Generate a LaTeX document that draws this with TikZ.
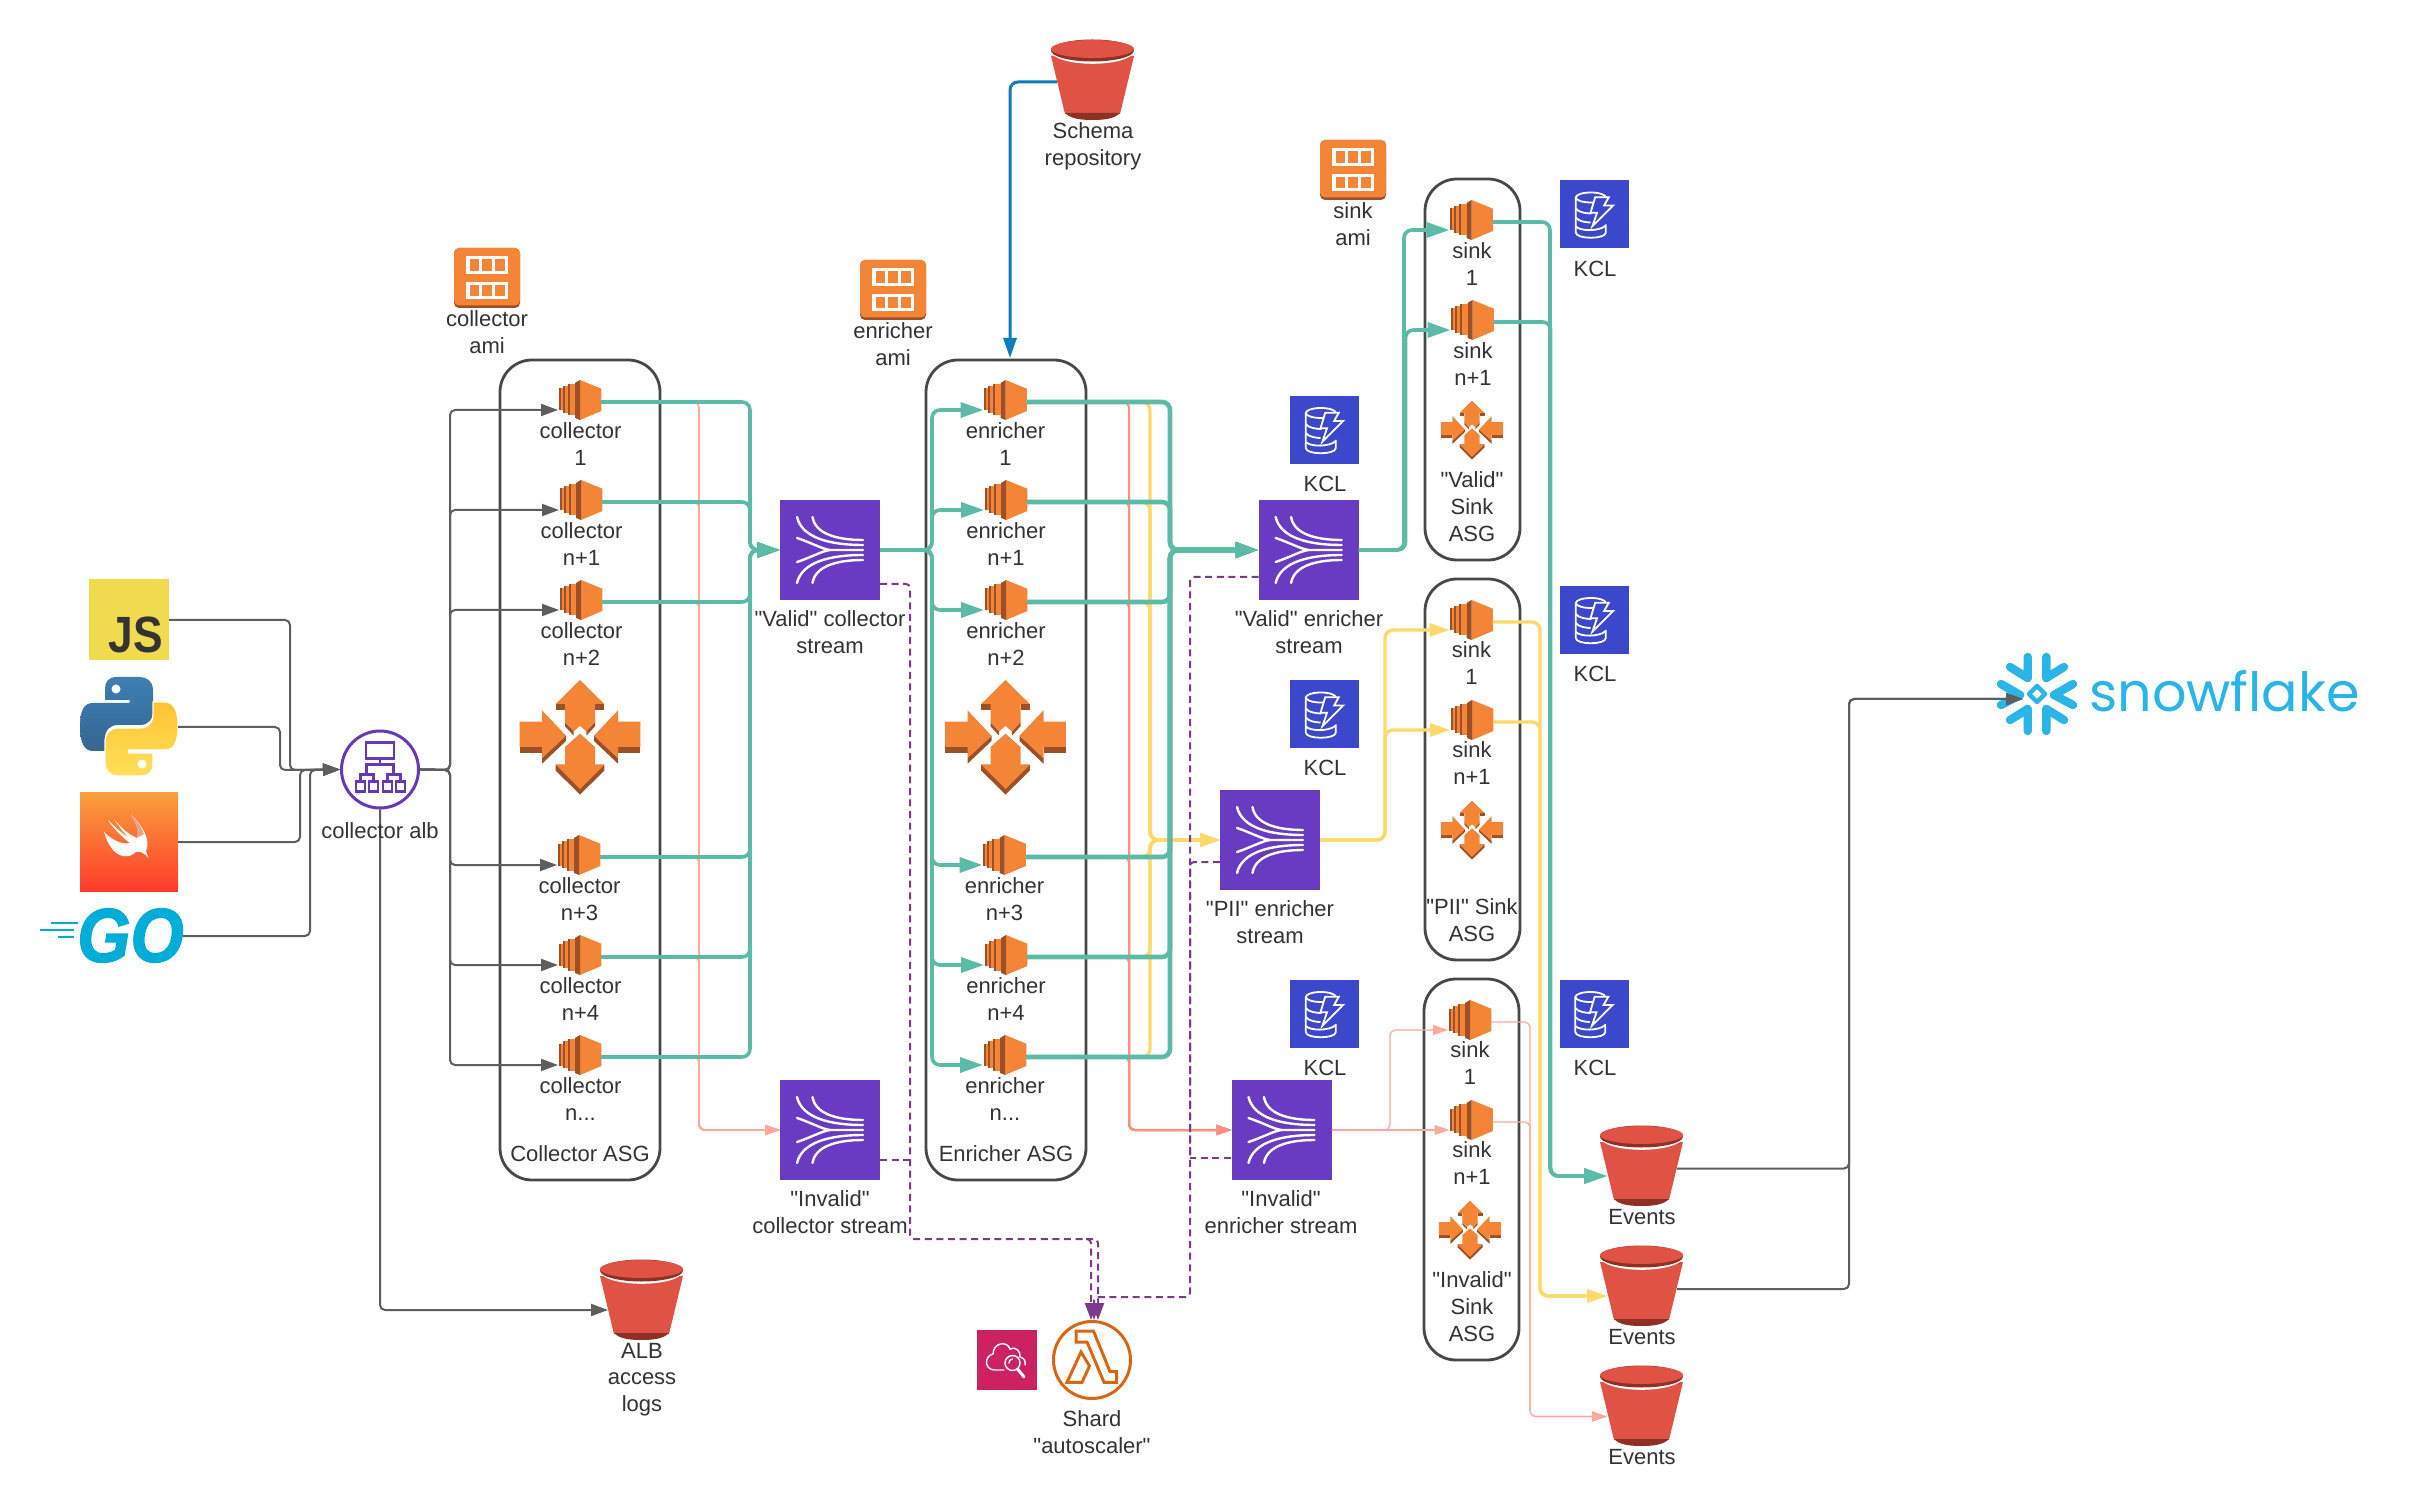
\documentclass[tikz,border=0pt]{standalone}
\usepackage{fontspec}
\setmainfont{Liberation Sans}
\newfontfamily\lblfont{Liberation Sans}
\newfontfamily\snowfont{Poppins}
\usetikzlibrary{arrows.meta}
\definecolor{txt}{HTML}{333333}
\definecolor{ora}{HTML}{F58536}
\definecolor{orad}{HTML}{9D5025}
\definecolor{strm}{HTML}{693AC2}
\definecolor{kclb}{HTML}{3B48CC}
\definecolor{buck}{HTML}{E05243}
\definecolor{buckd}{HTML}{8C3123}
\definecolor{grayl}{HTML}{5E5E5E}
\definecolor{tealc}{HTML}{5BBBA7}
\definecolor{yelc}{HTML}{FFDA6A}
\definecolor{pinkc}{HTML}{FF9080}
\definecolor{pinkl}{HTML}{FFA99C}
\definecolor{bluec}{HTML}{0C7CBE}
\definecolor{purc}{HTML}{7B3A8C}
\definecolor{boxc}{HTML}{484848}
\definecolor{albc}{HTML}{6639BA}
\definecolor{lamc}{HTML}{D86613}
\definecolor{cwc}{HTML}{CC2264}
\definecolor{goc}{HTML}{00ADD8}
\definecolor{snowc}{HTML}{29B5E8}
\definecolor{jsc}{HTML}{F0DB4F}
\definecolor{pyba}{HTML}{3D7FB5}
\definecolor{pybb}{HTML}{356690}
\definecolor{pyya}{HTML}{FFE05A}
\definecolor{pyyb}{HTML}{FFC331}
\definecolor{swa}{HTML}{F9A03C}
\definecolor{swb}{HTML}{FF3A2B}
\definecolor{birda}{HTML}{E4512B}
\newcommand\pypath{(37,0) .. controls (28,0) and (25,5) .. (25,12) -- (25,23) -- (49.5,23) -- (49.5,26) -- (13,26) .. controls (4,26) and (0,33) .. (0,50) .. controls (0,67) and (5,74) .. (13,74) -- (25,74) -- (25,62) .. controls (25,53) and (30,48) .. (38,48) -- (60,48) .. controls (68,48) and (73,42) .. (73,36) -- (73,12) .. controls (73,5) and (67,0) .. (60,0) -- cycle}
\tikzset{
  lbl/.style={align=center,anchor=north,inner sep=0pt,text=txt,font=\fontsize{11}{13.3}\selectfont\lblfont,execute at begin node=\strut},
  iconbox/.style={inner sep=0pt,outer sep=0pt,rectangle},
  asgbox/.style={draw=boxc,line width=1.4pt,rounded corners=16pt,inner sep=0pt,outer sep=0pt},
  grayline/.style={draw=grayl,line width=1pt,rounded corners=2.5pt,-{Triangle[length=8.5pt,width=6pt]}},
  tealline/.style={draw=tealc,line width=1.8pt,rounded corners=4pt,-{Triangle[length=11.5pt,width=7.5pt]}},
  tealthick/.style={tealline,line width=2.3pt},
  yelline/.style={draw=yelc,line width=1.7pt,rounded corners=4pt,-{Triangle[length=10pt,width=6.5pt]}},
  pinkline/.style={draw=pinkc,line width=1pt,rounded corners=3pt,-{Triangle[length=7.5pt,width=5pt]}},
  pinkthin/.style={draw=pinkl,line width=.6pt,rounded corners=3pt,-{Triangle[length=7.5pt,width=5pt]}},
  blueline/.style={draw=bluec,line width=1.5pt,rounded corners=4pt,-{Triangle[length=10pt,width=6.5pt]}},
  purline/.style={draw=purc,line width=1pt,rounded corners=2pt,dash pattern=on 3.5pt off 2.3pt},
  purarrow/.style={purline,-{Triangle[length=8.5pt,width=6pt]}},
  ectwo/.pic={
    \fill[ora] (0,-20)--(21.3,-11.3)--(21.3,11)--(0,20)--cycle;
    \fill[orad] (-5,-17)--(0,-20)--(0,20)--(-5,18)--cycle;
    \fill[ora] (-10.5,-16) rectangle (-5,15.5);
    \fill[orad] (-12.5,-16) rectangle (-10.5,15.5);
    \fill[ora] (-15.5,-14) rectangle (-12.5,13);
    \fill[orad] (-17.5,-14) rectangle (-15.5,13);
    \fill[ora] (-19.5,-11.5) rectangle (-17.5,10.5);
    \fill[orad] (-21.3,-11.5) rectangle (-19.5,10.5);
  },
  autosc/.pic={
    \fill[orad] (-24.3,-33) rectangle (-15,-27);
    \fill[orad] (24.3,-33) rectangle (15,-27);
    \fill[orad] (-15,-14.7)--(-6.3,-5.7)--(-6.3,-1.3)--(-15,-10.7)--cycle;
    \fill[orad] (15,-14.7)--(6.3,-5.7)--(6.3,-1.3)--(15,-10.7)--cycle;
    \fill[ora] (0,-57)--(24.3,-33)--(15,-33)--(15,-14.7)--(6.3,-5.7)--(0,-11)--(-6.3,-5.7)--(-15,-14.7)--(-15,-33)--(-24.3,-33)--cycle;
    \fill[orad] (24.3,27.7)--(24.3,33.5)--(0,57.7)--(-24.3,33.5)--(-24.3,27.7)--cycle;
    \fill[ora] (0,-3.3)--(15,10)--(15,27.7)--(24.3,27.7)--(0,52)--(-24.3,27.7)--(-15,27.7)--(-15,10)--cycle;
    \foreach \s in {1,-1}{
      \fill[orad] (\s*-60.3,10) rectangle (\s*-38,16);
      \fill[orad] (\s*-38,21)--(\s*-14,-1.3)--(\s*-14,4)--(\s*-38,26.7)--cycle;
      \fill[ora] (\s*-60.3,-15.3)--(\s*-38,-15.3)--(\s*-38,-26.7)--(\s*-14,-1.3)--(\s*-38,21)--(\s*-38,10)--(\s*-60.3,10)--cycle;
    }
  },
  amiglyph/.pic={
    \fill[orad,rounded corners=2.5pt] (-33,-30) rectangle (33,30);
    \fill[ora,rounded corners=2.5pt] (-33,-30) rectangle (33,27.5);
    \foreach \y in {-21.7,3.7}{
      \fill[white] (-21,\y) rectangle (21,{\y+17.7});
      \foreach \x in {-17.5,-4.7,8}{
        \fill[ora] (\x,{\y+3}) rectangle ({\x+9.7},{\y+14.7});
      }
    }
  },
  kinesis/.pic={
    \begin{scope}[draw=white,line width=1.2pt,line cap=round]
    \draw (-17.5,-33) .. controls (-15,-17) and (5,-10) .. (33,-10);
    \draw (-33,-33) .. controls (-28,-12) and (0,-5) .. (33,-5);
    \draw (-33,-12) .. controls (-18,-7) and (-8,-1) .. (0,0) -- (33,0);
    \draw (-17.5,33) .. controls (-15,17) and (5,10) .. (33,10);
    \draw (-33,33) .. controls (-28,12) and (0,5) .. (33,5);
    \draw (-33,12) .. controls (-18,7) and (-8,1) .. (0,0);
    \end{scope}
  },
  dynamo/.pic={
    \begin{scope}[draw=white,line width=.9pt]
    \draw (-3.7,-17) ellipse (15 and 5);
    \draw (-18.7,-17) -- (-18.7,18) .. controls (-18.7,25) and (11.3,25) .. (11.3,18) -- (11.3,10);
    \draw (-18.7,-6) .. controls (-16,-2) and (-8,-1) .. (-3,-1);
    \draw (-18.7,3) .. controls (-16,7) and (-8,8) .. (-4,8);
    \draw (-18.7,12) .. controls (-14,17) and (5,17) .. (11.3,11);
    \draw[fill=kclb] (0.7,-17.3)--(14.3,-17.3)--(9.6,-9)--(18.6,-9)--(-2.1,11.7)--(2.5,-1.7)--(-4,-1.7)--cycle;
    \end{scope}
  },
  bucket/.pic={
    \fill[buck] (-41.5,-24)--(-27.5,34)--(27.5,34)--(41.5,-24)--cycle;
    \fill[buckd] (-27.5,33) .. controls (-24,36) and (-20,40) .. (0,40) .. controls (20,40) and (24,36) .. (27.5,33) -- cycle;
    \fill[white] (0,-29) ellipse (41.5 and 12.8);
    \fill[buckd] (0,-29.5) ellipse (41.5 and 11);
    \fill[buck] (0,-31) ellipse (41.5 and 9);
  },
  albglyph/.pic={
    \begin{scope}[draw=albc,line width=1.15pt]
    \draw (-14,-27) rectangle (14,-11);
    \draw (0,-11) -- (0,-5);
    \draw (-13.5,5) -- (-13.5,-5) -- (13.5,-5) -- (13.5,5);
    \draw (-19.5,12) -- (-19.5,5) -- (-6.5,5) -- (-6.5,12);
    \draw (7.5,12) -- (7.5,5) -- (20.5,5) -- (20.5,12);
    \foreach \x in {-24,-11,3,16}{\draw (\x,12) rectangle ({\x+9},22);}
    \end{scope}
  },
  lamglyph/.pic={
    \begin{scope}[draw=lamc,line width=1.5pt,line join=miter]
    \draw (-16,-29)--(1.5,-29)--(18,11.7)--(24.5,11.7)--(24.5,22.3)--(12,22.3)--(-5,-18)--(-16,-18)--cycle;
    \draw (-11,-8)--(-2.5,6)--(-10,22.3)--(-25,22.3)--cycle;
    \end{scope}
  },
  cwglyph/.pic={
    \begin{scope}[draw=white,line width=.7pt,line cap=round]
    \draw (-3,10) -- (-12,10) .. controls (-23,10) and (-23,-4) .. (-14,-6) .. controls (-14,-17) and (0,-20) .. (3,-11) .. controls (8,-14) and (14,-9) .. (13,-3) .. controls (17,-2) and (19,1) .. (18,5);
    \draw (5.5,3) circle (7.5);
    \draw (5.5,-1) .. controls (3,-1) and (2,1) .. (2,3);
    \draw[line width=1.5pt] (10.5,9) -- (17,17);
    \end{scope}
  },
  swiftbird/.pic={
    \fill[white] (131,815) .. controls (143,826) and (151,840) .. (146,851) -- (148.5,858) .. controls (144,853) and (141,851) .. (136,852) .. controls (128,860) and (112,859) .. (104,832) .. controls (112,840) and (122,845) .. (130,843) .. controls (122,837) and (113,828) .. (108,820) .. controls (116,828) and (124,835) .. (129,838) .. controls (123,832) and (118,825) .. (114,819) .. controls (122,829) and (128,834) .. (137,838) .. controls (139,830) and (136,823) .. (131,815) -- cycle;
    \fill[birda,opacity=.55] (131,815) .. controls (137,821) and (142,828) .. (144,834) -- (137,838) .. controls (139,830) and (136,823) .. (131,815) -- cycle;
  },
  snowglyph/.pic={
    \begin{scope}[draw=snowc,line width=4.2pt,line cap=round,line join=round]
    \foreach \s in {1,-1}{
      \draw (\s*-9.3,-37) -- (\s*-9.3,-16) -- (\s*-27,-27);
      \draw (\s*-36,-10) -- (\s*-17,1) -- (\s*-36,11);
      \draw (\s*-27,26) -- (\s*-9.3,15) -- (\s*-9.3,37);
    }
    \draw[line width=2.2pt] (0,-8)--(8,0)--(0,8)--(-8,0)--cycle;
    \end{scope}
  },
}
\newcommand\lbl[4]{\node[lbl] (#1) at ({#2},{#3-10.6}) {#4};}
\newcommand\lblm[4]{\node[lbl] (#1) at ({#2},{#3-8.4}) {#4};}
\newcommand\ecnode[3]{\node[iconbox,minimum width=21pt,minimum height=20pt] (#1) at (#2,#3) {};\pic at (#2,#3) {ectwo};\coordinate (#1in) at ({#2-22},{#3+10});\coordinate (#1out) at ({#2+21},{#3+2});}
\newcommand\streamnode[3]{\node[iconbox,fill=strm,minimum size=50pt] (#1) at (#2,#3) {};\pic at (#2,#3) {kinesis};}
\newcommand\kclnode[3]{\node[iconbox,fill=kclb,minimum width=34.5pt,minimum height=34pt] (#1) at (#2,#3) {};\pic at (#2,#3) {dynamo};}
\newcommand\bucketnode[3]{\node[iconbox,minimum width=41.5pt,minimum height=40pt] (#1) at (#2,#3) {};\pic at (#2,#3) {bucket};}
\newcommand\aminode[3]{\node[iconbox,minimum width=33pt,minimum height=30pt] (#1) at (#2,#3) {};\pic at (#2,#3) {amiglyph};}
\begin{document}
\begin{tikzpicture}[x=0.5pt,y=-0.5pt]
\useasboundingbox[fill=white] (0,0) rectangle (2431,1507);

% ASG boxes
\node[asgbox,minimum width=80pt,minimum height=410pt] (casg) at (580,770) {};
\node[asgbox,minimum width=80pt,minimum height=410pt] (easg) at (1006,770) {};
\node[asgbox,minimum width=47.5pt,minimum height=190.5pt] (vasg) at (1472.5,369.5) {};
\node[asgbox,minimum width=47.5pt,minimum height=190.5pt] (pasg) at (1472.5,769.5) {};
\node[asgbox,minimum width=47.5pt,minimum height=190.5pt] (iasg) at (1471.5,1169.5) {};

% Language logos
\node[iconbox,fill=jsc,minimum width=40pt,minimum height=40.5pt] (js) at (129,619.5) {};
\node[inner sep=0pt,text=black!80,font=\fontsize{25.5}{26}\selectfont\bfseries] (jst) at (136,635) {\scalebox{.87}[1]{JS}};
\node[iconbox,minimum width=49pt,minimum height=49.5pt] (py) at (129,726.5) {};
\begin{scope}[shift={(80,677)}]
  \path[top color=pyba,bottom color=pybb] \pypath;
  \fill[white] (36,12) circle (4.5);
  \begin{scope}[rotate around={180:(49,49.5)}]
    \path[draw=white,line width=.6pt,bottom color=pyya,top color=pyyb] \pypath;
    \fill[white] (36,12) circle (4.5);
  \end{scope}
\end{scope}
\node[iconbox,top color=swa,bottom color=swb,minimum width=49pt,minimum height=49pt] (sw) at (129,842) {};
\pic at (0,0) {swiftbird};
\node[inner sep=0pt,text=goc,font=\fontsize{38}{38}\selectfont\bfseries\itshape\addfontfeature{FakeBold=2}] (go) at (130.5,935.5) {\scalebox{.9}[1]{GO}};
\draw[goc,line width=1.1pt] (51,923) -- (78,923) (40,930) -- (74,930) (58,937) -- (74,937);

% ALB
\node[circle,draw=albc,line width=1.5pt,minimum size=38.5pt,inner sep=0pt,outer sep=.75pt] (alb) at (380,769.5) {};
\pic at (380,769.5) {albglyph};

% Icons
\aminode{camiic}{487}{278}
\aminode{eamiic}{893}{290}
\aminode{samiic}{1353}{170}
\bucketnode{schema}{1092.5}{80}
\bucketnode{albb}{641.5}{1300}
\bucketnode{ev1}{1641.5}{1166}
\bucketnode{ev2}{1641.5}{1286}
\bucketnode{ev3}{1641.5}{1406}

\ecnode{c1}{580}{400}
\ecnode{c2}{581}{500}
\ecnode{c3}{581}{600}
\ecnode{c4}{579}{855}
\ecnode{c5}{580}{955}
\ecnode{c6}{580}{1055}
\ecnode{e1}{1005.5}{400}
\ecnode{e2}{1006}{500}
\ecnode{e3}{1006}{600}
\ecnode{e4}{1004.5}{855}
\ecnode{e5}{1006}{955}
\ecnode{e6}{1005}{1055}
\ecnode{sv1}{1471.5}{220}
\ecnode{sv2}{1472.5}{320}
\ecnode{sp1}{1471.5}{620}
\ecnode{sp2}{1472}{720}
\ecnode{si1}{1470}{1020}
\ecnode{si2}{1471.5}{1120}

\pic at (580,737) {autosc};
\pic at (1005.5,737) {autosc};
\pic[scale=.515] at (1472,430) {autosc};
\pic[scale=.515] at (1472,830) {autosc};
\pic[scale=.515] at (1470,1230) {autosc};

\streamnode{vcs}{830}{550}
\streamnode{ics}{830}{1130}
\streamnode{ves}{1308.6}{550}
\streamnode{pes}{1270}{840}
\streamnode{ies}{1281.5}{1130}

\kclnode{k1}{1324.5}{430}
\kclnode{k2}{1324.5}{714.5}
\kclnode{k3}{1324.5}{1014}
\kclnode{k4}{1594.5}{214.5}
\kclnode{k5}{1594.5}{620}
\kclnode{k6}{1594}{1014}

\node[circle,draw=lamc,line width=1.5pt,minimum size=38.5pt,inner sep=0pt,outer sep=.75pt] (lam) at (1092,1360) {};
\pic at (1092,1360) {lamglyph};
\node[iconbox,fill=cwc,minimum size=30pt] (cw) at (1007,1360) {};
\pic at (1007,1360) {cwglyph};

% Snowflake
\node[iconbox,minimum size=43pt] (snow) at (2037,694) {};
\pic at (2037,694) {snowglyph};
\node[inner sep=0pt,anchor=base,text=snowc,font=\fontsize{27}{27}\selectfont\snowfont] (snowt) at (2224.5,712) {snowflake};

% Named junctions and free ends
\coordinate (jsout) at (169,620);
\coordinate (pyout) at (178,727);
\coordinate (swout) at (178,842);
\coordinate (goout) at (183,936);
\coordinate (jj) at (290,770);
\coordinate (jp) at (280,770);
\coordinate (js2) at (300,770);
\coordinate (jg) at (310,770);
\coordinate (ja) at (450,770);
\coordinate (albin) at (608,1310);
\coordinate (jcv) at (750,550);
\coordinate (jci) at (699,1130);
\coordinate (jcout) at (932,550);
\coordinate (jev) at (1170,550);
\coordinate (jey) at (1150,840);
\coordinate (jei) at (1129,1130);
\coordinate (jvoa) at (1404,550);
\coordinate (jvob) at (1405.5,550);
\coordinate (jpo) at (1385,840);
\coordinate (jio) at (1390,1130);
\coordinate (ev1in) at (1607,1176);
\coordinate (ev2in) at (1607,1296);
\coordinate (ev3in) at (1607,1416.5);
\coordinate (jtva) at (1550,1176);
\coordinate (jtvb) at (1550.6,1176);
\coordinate (jty) at (1540,1296);
\coordinate (jti) at (1530,1416.5);
\coordinate (ev1out) at (1677,1168.5);
\coordinate (ev2out) at (1677,1289);
\coordinate (jsn) at (1849,699);
\coordinate (snowin) at (2023,699);
\coordinate (schout) at (1057,82);
\coordinate (schin) at (1010,358);
\coordinate (vcd) at (880,584);
\coordinate (icd) at (880,1160);
\coordinate (ved) at (1258.6,577);
\coordinate (ped) at (1220,862);
\coordinate (ied) at (1231,1158);
\coordinate (jd1) at (910,1239);
\coordinate (jd1i) at (910,1160);
\coordinate (jd1b) at (1086,1239);
\coordinate (jd2) at (1190,1297);
\coordinate (jd2i) at (1190,1158);
\coordinate (lt1) at (1091,1320);
\coordinate (lt2) at (1098,1320);
\coordinate (lt3) at (1094,1320);

% Gray connectors
\draw[grayline] (jsout) -| (jj) -- (alb.west);
\draw[grayline] (pyout) -| (jp) -- (alb.west);
\draw[grayline] (swout) -| (js2) -- (alb.west);
\draw[grayline] (goout) -| (jg) -- (alb.west);
\foreach \n in {c1,c2,c3,c4,c5,c6}{\draw[grayline] (alb.east) -- (ja) |- (\n in);}
\draw[grayline] (alb.south) |- (albin);
\draw[grayline] (ev1out) -| (jsn) -- (snowin);
\draw[grayline] (ev2out) -| (jsn) -- (snowin);

% Pink
\foreach \n in {c1,c2,c3,c4,c5,c6}{\draw[pinkline,draw=pinkl,line width=.8pt] (\n out) -| (jci) -- (ics.west);}
\foreach \n in {e1,e2,e3,e4,e5,e6}{\draw[pinkline] (\n out) -| (jei) -- (ies.west);}
% Yellow
\foreach \n in {e1,e2,e3,e4,e5,e6}{\draw[yelline] (\n out) -| (jey) -- (pes.west);}
% Teal
\foreach \n in {c1,c2,c3,c4,c5,c6}{\draw[tealline] (\n out) -| (jcv) -- (vcs.west);}
\foreach \n in {e1,e2,e3,e4,e5,e6}{\draw[tealline] (vcs.east) -- (jcout) |- (\n in);}
\foreach \n in {e1,e2,e3,e4,e5,e6}{\draw[tealthick] (\n out) -| (jev) -- (ves.west);}
\draw[tealline] (ves.east) -- (jvoa) |- (sv1in);
\draw[tealline] (ves.east) -- (jvob) |- (sv2in);
\draw[tealline] (sv1out) -| (jtva) -- (ev1in);
\draw[tealline] (sv2out) -| (jtvb) -- (ev1in);
% PII
\foreach \n in {sp1,sp2}{\draw[yelline] (pes.east) -- (jpo) |- (\n in);}
\foreach \n in {sp1,sp2}{\draw[yelline] (\n out) -| (jty) -- (ev2in);}
% Invalid
\draw[pinkthin] (ies.east) -- (jio) |- (si1in);
\draw[pinkthin] (ies.east) -- (si2in);
\foreach \n in {si1,si2}{\draw[pinkthin] (\n out) -| (jti) -- (ev3in);}
% Schema
\draw[blueline] (schout) -| (schin);
% Shard dashed
\draw[purarrow] (vcd) -| (jd1) -| (lt1);
\draw[purline] (icd) -- (jd1i);
\draw[purarrow] (jd1b) -| (lt2);
\draw[purarrow] (ved) -| (jd2) -| (lt3);
\draw[purline] (ped) -| (jd2i);
\draw[purline] (ied) -- (jd2i);

% Labels
\lblm{lcami}{487}{319}{collector\\ami}
\lblm{leami}{893}{331}{enricher\\ami}
\lblm{lsami}{1353}{211}{sink\\ami}
\lblm{lschema}{1093}{131}{Schema\\repository}
\lbl{lalb}{380}{830}{collector alb}
\lblm{lalbb}{642}{1351}{ALB\\access\\logs}
\lblm{lc1}{580.5}{431}{collector\\1}
\lblm{lc2}{581.5}{531}{collector\\n+1}
\lblm{lc3}{581.5}{631}{collector\\n+2}
\lblm{lc4}{579.5}{886}{collector\\n+3}
\lblm{lc5}{580.5}{986}{collector\\n+4}
\lblm{lc6}{580.5}{1086}{collector\\n...}
\lbl{lcasg}{580}{1153}{Collector ASG}
\lblm{le1}{1005.5}{431}{enricher\\1}
\lblm{le2}{1006}{531}{enricher\\n+1}
\lblm{le3}{1006}{631}{enricher\\n+2}
\lblm{le4}{1004.5}{886}{enricher\\n+3}
\lblm{le5}{1006}{986}{enricher\\n+4}
\lblm{le6}{1005}{1086}{enricher\\n...}
\lbl{leasg}{1006}{1153}{Enricher ASG}
\lblm{lvcs}{830}{619}{"Valid" collector\\stream}
\lblm{lics}{830}{1199}{"Invalid"\\collector stream}
\lblm{lves}{1309}{619}{"Valid" enricher\\stream}
\lblm{lpes}{1270}{909}{"PII" enricher\\stream}
\lblm{lies}{1281}{1199}{"Invalid"\\enricher stream}
\lblm{lsv1}{1472}{251}{sink\\1}
\lblm{lsv2}{1473}{351}{sink\\n+1}
\lblm{lvasg}{1472}{480}{"Valid"\\Sink\\ASG}
\lblm{lsp1}{1471.5}{650}{sink\\1}
\lblm{lsp2}{1472}{750}{sink\\n+1}
\lblm{lpasg}{1472}{907}{"PII" Sink\\ASG}
\lblm{lsi1}{1470}{1050}{sink\\1}
\lblm{lsi2}{1472}{1150}{sink\\n+1}
\lblm{liasg}{1472}{1280}{"Invalid"\\Sink\\ASG}
\lbl{lk1}{1325}{483}{KCL}
\lbl{lk2}{1325}{767}{KCL}
\lbl{lk3}{1325}{1067}{KCL}
\lbl{lk4}{1595}{268}{KCL}
\lbl{lk5}{1595}{673}{KCL}
\lbl{lk6}{1595}{1067}{KCL}
\lbl{lev1}{1642}{1216.5}{Events}
\lbl{lev2}{1642}{1336.5}{Events}
\lbl{lev3}{1642}{1456.5}{Events}
\lblm{llam}{1092}{1419}{Shard\\"autoscaler"}
\end{tikzpicture}
\end{document}
